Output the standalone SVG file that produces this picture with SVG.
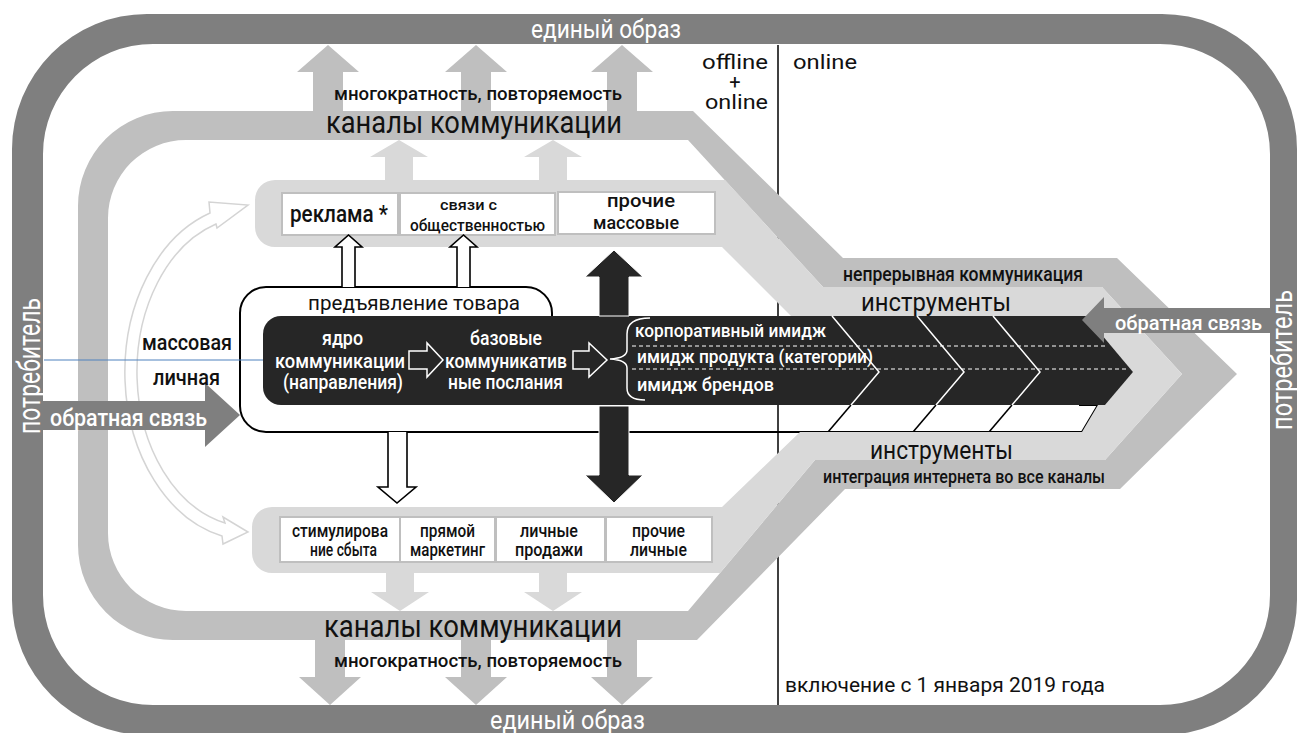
<svg xmlns="http://www.w3.org/2000/svg" width="1298" height="733" viewBox="0 0 1298 733">
<style>
text { font-family: Roboto, "DejaVu Sans", "Liberation Sans", sans-serif; fill:#111; font-weight:500; }
text.w { fill:#fff; }
text.big { font-weight:400; }
.cell { fill:#fff; stroke:#bfbfbf; stroke-width:2; }
.mg { fill:#bfbfbf; }
.lg { fill:#d9d9d9; }
.dk { fill:#7f7f7f; }
.hb { fill:#fff; stroke:#000; stroke-width:1.6; stroke-linejoin:miter; }
.hw { fill:none; stroke:#fff; stroke-width:1.5; }
.blk { fill:#262626; stroke:#fff; stroke-width:1; }
.dash { stroke:#fff; stroke-width:1; stroke-dasharray:4 3; fill:none; }
</style>

<g id="frame">
  <path class="dk" fill-rule="evenodd" d="M147,14 H1162 A135,135 0 0 1 1297,149 V600 A135,135 0 0 1 1162,735 H147 A135,135 0 0 1 12,600 V149 A135,135 0 0 1 147,14 Z M153,44 A110,110 0 0 0 43,154 V595 A110,110 0 0 0 153,705 H1160 A110,110 0 0 0 1270,595 V154 A110,110 0 0 0 1160,44 Z"/>
  <text class="w big" x="531" y="38" font-size="25" textLength="150" lengthAdjust="spacingAndGlyphs">единый образ</text>
  <text class="w big" x="490" y="729" font-size="25" textLength="155" lengthAdjust="spacingAndGlyphs">единый образ</text>
  <text class="w big" transform="translate(40,366) rotate(-90)" x="0" y="0" text-anchor="middle" font-size="31" textLength="136" lengthAdjust="spacingAndGlyphs">потребитель</text>
  <text class="w big" transform="translate(1292,360) rotate(-90)" x="0" y="0" text-anchor="middle" font-size="30" textLength="140" lengthAdjust="spacingAndGlyphs">потребитель</text>
</g>

<g id="presentation-box">
  <path fill="#fff" stroke="#000" stroke-width="2" d="M266,287 H526 A26,26 0 0 1 552,313 V330 H1080 V405 H1098 L1082,432 H266 A26,26 0 0 1 240,406 V313 A26,26 0 0 1 266,287 Z"/>
  <g stroke="#000" stroke-width="1.6">
    <line x1="851" y1="405" x2="828" y2="432"/>
    <line x1="936" y1="405" x2="913" y2="432"/>
    <line x1="1012" y1="405" x2="989" y2="432"/>
  </g>
  <text class="big" x="308" y="310" font-size="21" textLength="212" lengthAdjust="spacingAndGlyphs">предъявление товара</text>
</g>

<g id="divider">
  <line x1="778" y1="45" x2="778" y2="705" stroke="#000" stroke-width="1.5"/>
  <text class="big" x="702" y="69" font-size="21" textLength="66" lengthAdjust="spacingAndGlyphs">offline</text>
  <text class="big" x="735" y="89" font-size="20" text-anchor="middle">+</text>
  <text class="big" x="705" y="109" font-size="21" textLength="63" lengthAdjust="spacingAndGlyphs">online</text>
  <text class="big" x="793" y="69" font-size="21" textLength="64" lengthAdjust="spacingAndGlyphs">online</text>
  <text class="big" x="785" y="692" font-size="21" textLength="320" lengthAdjust="spacingAndGlyphs">включение с 1 января 2019 года</text>
</g>

<g id="channels-band">
  <path class="mg" fill-rule="evenodd" d="M173,111 H693 L843,258 H1117 L1237,374 L1120,489 H845 L697,640 H173 A95,95 0 0 1 78,545 V206 A95,95 0 0 1 173,111 Z M186,140 A78,78 0 0 0 108,218 V533 A78,78 0 0 0 186,611 H688 L815,460 H1105 L1182,374 L1102,287 H823 L688,140 Z"/>
  <text class="big" x="326" y="133" font-size="32" textLength="296" lengthAdjust="spacingAndGlyphs">каналы коммуникации</text>
  <text class="big" x="324" y="637" font-size="32" textLength="298" lengthAdjust="spacingAndGlyphs">каналы коммуникации</text>
  <text x="843" y="281" font-size="21" textLength="240" lengthAdjust="spacingAndGlyphs">непрерывная коммуникация</text>
  <text x="823" y="483" font-size="18" textLength="282" lengthAdjust="spacingAndGlyphs">интеграция интернета во все каналы</text>
</g>

<g id="tools-band">
  <path class="lg" d="M275,180 H725 L823,287 H1102 L1182,374 L1105,460 H815 L720,573 H272 A20,20 0 0 1 252,553 V527 A20,20 0 0 1 272,507 H722 L800,432 H1082 L1098,405 H1105 L1133,372 L1086,316 H791 L722,247 H275 A20,20 0 0 1 255,227 V200 A20,20 0 0 1 275,180 Z"/>
  <text class="big" x="861" y="311" font-size="26" textLength="150" lengthAdjust="spacingAndGlyphs">инструменты</text>
  <text class="big" x="870" y="459" font-size="26" textLength="143" lengthAdjust="spacingAndGlyphs">инструменты</text>
</g>

<g id="mass-channels">
  <rect class="cell" x="282" y="193" width="116" height="42"/>
  <rect class="cell" x="400" y="193" width="155" height="42"/>
  <rect class="cell" x="558" y="192" width="157" height="42"/>
  <text x="290" y="222" font-size="23" textLength="98" lengthAdjust="spacingAndGlyphs">реклама *</text>
  <text x="440" y="210" font-size="15" textLength="57" lengthAdjust="spacingAndGlyphs">связи с</text>
  <text x="410" y="231" font-size="16" textLength="135" lengthAdjust="spacingAndGlyphs">общественностью</text>
  <text x="607" y="207" font-size="19" textLength="68" lengthAdjust="spacingAndGlyphs">прочие</text>
  <text x="593" y="229" font-size="19" textLength="86" lengthAdjust="spacingAndGlyphs">массовые</text>
</g>

<g id="personal-channels">
  <rect class="cell" x="280" y="517" width="120" height="45"/>
  <rect class="cell" x="400" y="517" width="95" height="45"/>
  <rect class="cell" x="496" y="517" width="109" height="45"/>
  <rect class="cell" x="606" y="517" width="106" height="45"/>
  <text x="292" y="537" font-size="18" textLength="96" lengthAdjust="spacingAndGlyphs">стимулирова</text>
  <text x="310" y="556" font-size="18" textLength="67" lengthAdjust="spacingAndGlyphs">ние сбыта</text>
  <text x="420" y="537" font-size="18" textLength="55" lengthAdjust="spacingAndGlyphs">прямой</text>
  <text x="410" y="556" font-size="18" textLength="75" lengthAdjust="spacingAndGlyphs">маркетинг</text>
  <text x="520" y="537" font-size="18" textLength="58" lengthAdjust="spacingAndGlyphs">личные</text>
  <text x="515" y="556" font-size="18" textLength="68" lengthAdjust="spacingAndGlyphs">продажи</text>
  <text x="632" y="537" font-size="18" textLength="53" lengthAdjust="spacingAndGlyphs">прочие</text>
  <text x="630" y="556" font-size="18" textLength="57" lengthAdjust="spacingAndGlyphs">личные</text>
</g>

<g id="core">
  <path fill="#262626" d="M281,316 H1086 L1133,372 L1105,405 H281 A18,18 0 0 1 263,387 V334 A18,18 0 0 1 281,316 Z"/>
  <g class="hw">
    <polyline points="832,316 879,372 851,405"/>
    <polyline points="917,316 964,372 936,405"/>
    <polyline points="993,316 1040,372 1012,405"/>
    <path d="M650,318 Q627,318 627,334 V350 Q627,358 610,359 Q627,360 627,368 V388 Q627,400 645,400"/>
  </g>
  <line class="dash" x1="632" y1="346" x2="1108" y2="346"/>
  <line class="dash" x1="632" y1="369" x2="1128" y2="369"/>
  <text class="w" x="322" y="345" font-size="21" textLength="41" lengthAdjust="spacingAndGlyphs">ядро</text>
  <text class="w" x="275" y="368" font-size="21" textLength="130" lengthAdjust="spacingAndGlyphs">коммуникации</text>
  <text class="w" x="283" y="389" font-size="21" textLength="120" lengthAdjust="spacingAndGlyphs">(направления)</text>
  <text class="w" x="470" y="345" font-size="21" textLength="72" lengthAdjust="spacingAndGlyphs">базовые</text>
  <text class="w" x="445" y="368" font-size="21" textLength="122" lengthAdjust="spacingAndGlyphs">коммуникатив</text>
  <text class="w" x="448" y="389" font-size="21" textLength="115" lengthAdjust="spacingAndGlyphs">ные послания</text>
  <text class="w" x="635" y="337" font-size="19" textLength="191" lengthAdjust="spacingAndGlyphs">корпоративный имидж</text>
  <text class="w" x="637" y="363" font-size="19" textLength="236" lengthAdjust="spacingAndGlyphs">имидж продукта (категории)</text>
  <text class="w" x="637" y="391" font-size="19" textLength="137" lengthAdjust="spacingAndGlyphs">имидж брендов</text>
</g>

<g id="connectors">
  <g class="mg">
    <polygon points="313,112 313,72 297,72 328,45 359,72 343,72 343,112"/>
    <polygon points="461,112 461,72 445,72 476,45 507,72 491,72 491,112"/>
    <polygon points="607,112 607,72 591,72 622,45 653,72 637,72 637,112"/>
    <polygon points="315,639 315,677 299,677 330,705 361,677 345,677 345,639"/>
    <polygon points="461,639 461,677 445,677 476,705 507,677 491,677 491,639"/>
    <polygon points="607,639 607,677 591,677 622,705 653,677 637,677 637,639"/>
  </g>
  <g class="lg">
    <polygon points="385,181 385,157 370,157 399,140 428,157 413,157 413,181"/>
    <polygon points="539,181 539,157 524,157 553,140 582,157 567,157 567,181"/>
    <polygon points="386,572 386,592 371,592 400,611 429,592 414,592 414,572"/>
    <polygon points="539,572 539,592 524,592 553,611 582,592 567,592 567,572"/>
  </g>
  <text x="334" y="100" font-size="19" textLength="288" lengthAdjust="spacingAndGlyphs">многократность, повторяемость</text>
  <text x="334" y="667" font-size="19" textLength="288" lengthAdjust="spacingAndGlyphs">многократность, повторяемость</text>
  <path fill="none" stroke="#d4d4d4" stroke-width="1.5" d="M210,213 L209,202 L248,205 L217,228 L216,224 A113,155 0 0 0 225,523 L223,517 L248,532 L223,544 L222,536 A125,168 0 0 1 210,213 Z"/>
  <path class="hb" d="M342,287 V247 H335 L348.5,235 L362,247 H355 V287"/>
  <path class="hb" d="M457,287 V247 H450 L463.5,235 L477,247 H470 V287"/>
  <path class="hb" d="M388,432 V487 H378 L397,503 L416,487 H407 V432"/>
  <path class="hw" d="M409,351 H427 V343 L443,360 L427,377 V369 H409 Z"/>
  <path class="hw" d="M573,351 H589 V343 L607,360 L589,377 V369 H573 Z"/>
  <polygon class="blk" points="599,316 599,277 585,277 614,250 643,277 629,277 629,316"/>
  <polygon class="blk" points="599,406 599,475 585,475 614,503 643,475 629,475 629,406"/>
  <polygon class="dk" points="43,401 205,401 205,383 240,415 205,447 205,430 43,430"/>
  <polygon class="dk" points="1272,308 1104,308 1104,297 1082,320 1104,343 1104,333 1272,333"/>
  <line x1="44" y1="360" x2="263" y2="360" stroke="#4f81bd" stroke-width="1"/>
  <text class="w" x="50" y="426" font-size="24" textLength="157" lengthAdjust="spacingAndGlyphs">обратная связь</text>
  <text class="w" x="1115" y="330" font-size="21" textLength="147" lengthAdjust="spacingAndGlyphs">обратная связь</text>
  <text x="142" y="350" font-size="22" textLength="90" lengthAdjust="spacingAndGlyphs">массовая</text>
  <text x="153" y="385" font-size="22" textLength="67" lengthAdjust="spacingAndGlyphs">личная</text>
</g>
</svg>
